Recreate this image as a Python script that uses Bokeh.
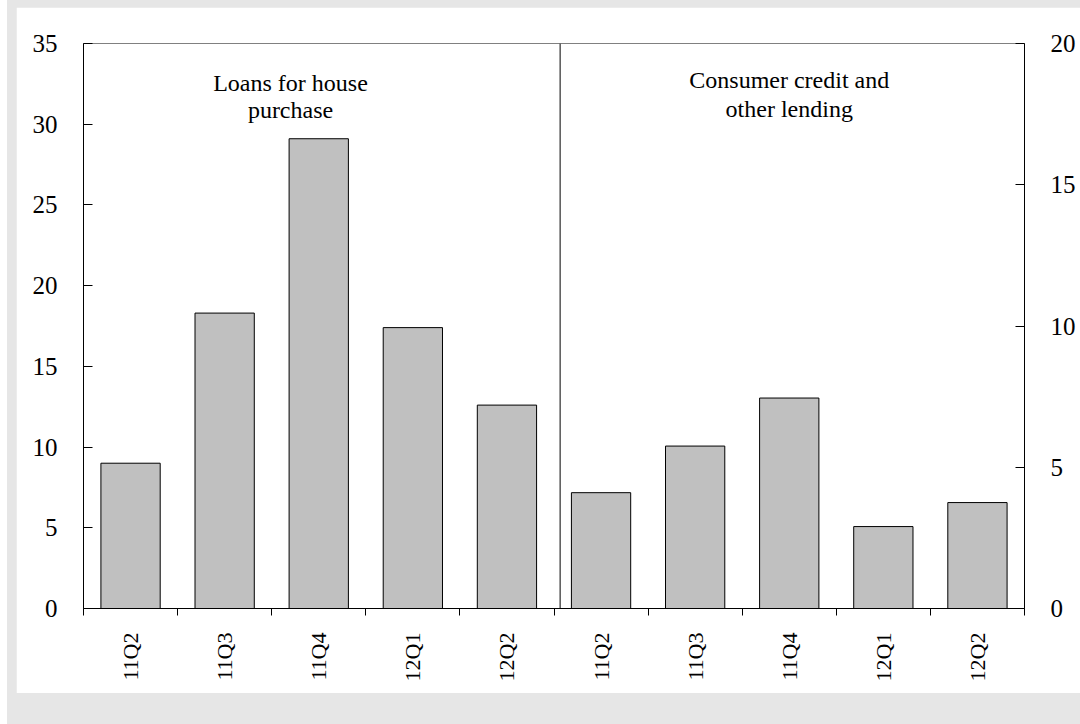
import math
from bokeh.plotting import figure
from bokeh.models import (Range1d, LinearAxis, FixedTicker, Span, Label, ColumnDataSource)
from bokeh.layouts import column
from bokeh.embed import file_html
from bokeh.resources import INLINE

# ---- data ----
quarters = ["11Q2", "11Q3", "11Q4", "12Q1", "12Q2"]
house_purchase = [9.0, 18.3, 29.1, 17.4, 12.6]        # left axis
consumer_other = [4.1, 5.75, 7.45, 2.9, 3.75]         # right axis
left_ticks = [0, 5, 10, 15, 20, 25, 30, 35]
right_ticks = [0, 5, 10, 15, 20]
panel_titles = [["Loans for house", "purchase"], ["Consumer credit and", "other lending"]]

FONT = "Liberation Serif"
n = len(quarters)
all_labels = quarters + quarters
centers = [i + 0.5 for i in range(2 * n)]

p = figure(width=1064, height=686, output_backend="svg", toolbar_location=None,
           x_range=Range1d(0, 2 * n), y_range=Range1d(0, left_ticks[-1]),
           min_border_left=67, min_border_right=56, min_border_top=36, min_border_bottom=85,
           border_fill_color="white", background_fill_color="white")
p.extra_y_ranges = {"right": Range1d(0, right_ticks[-1])}
p.xgrid.visible = False
p.ygrid.visible = False
p.outline_line_color = "#808080"
p.outline_line_width = 1

src_l = ColumnDataSource(dict(x=centers[:n], top=house_purchase))
src_r = ColumnDataSource(dict(x=centers[n:], top=consumer_other))
p.vbar(x="x", top="top", width=0.63, source=src_l, fill_color="#c0c0c0", line_color="black", line_width=1)
p.vbar(x="x", top="top", width=0.63, source=src_r, fill_color="#c0c0c0", line_color="black", line_width=1,
       y_range_name="right")

# divider between panels
p.add_layout(Span(location=n + 0.065, dimension="height", line_color="black", line_width=1))

# x axis: labels at centers, tick marks at boundaries
xa = p.xaxis[0]
xa.ticker = FixedTicker(ticks=centers, minor_ticks=list(range(2 * n + 1)))
xa.major_label_overrides = {c: l for c, l in zip(centers, all_labels)}
xa.major_tick_out = 0
xa.major_tick_in = 0
xa.minor_tick_out = 7
xa.minor_tick_in = 0
xa.major_label_orientation = math.pi / 2
xa.major_label_standoff = 17
xa.major_label_text_font = FONT
xa.major_label_text_font_size = "22px"
xa.major_label_text_color = "black"
xa.axis_line_color = "black"
xa.major_tick_line_color = "black"
xa.minor_tick_line_color = "black"

# left axis
ya = p.yaxis[0]
ya.ticker = FixedTicker(ticks=left_ticks)
ya.major_tick_in = 9
ya.major_tick_out = 0
ya.minor_tick_line_color = None
ya.major_label_standoff = 26
ya.major_label_text_font = FONT
ya.major_label_text_font_size = "25px"
ya.major_label_text_color = "black"
ya.axis_line_color = "black"
ya.major_tick_line_color = "black"

# right axis
ra = LinearAxis(y_range_name="right", ticker=FixedTicker(ticks=right_ticks))
ra.major_tick_in = 9
ra.major_tick_out = 0
ra.minor_tick_line_color = None
ra.major_label_standoff = 26
ra.major_label_text_font = FONT
ra.major_label_text_font_size = "25px"
ra.major_label_text_color = "black"
ra.axis_line_color = "black"
ra.major_tick_line_color = "black"
p.add_layout(ra, "right")

# panel titles (positioned in left-axis units)
title_x = [2.2, 7.5]
line_y = [(32.58, 30.85), (32.71, 30.97)]
for tx, lines, ys in zip(title_x, panel_titles, line_y):
    for txt, yy in zip(lines, ys):
        p.add_layout(Label(x=tx, y=yy, text=txt, text_align="center",
                           text_baseline="alphabetic", text_font=FONT, text_font_size="24px",
                           text_color="black"))

layout = column(p, styles={"background-color": "#e6e6e6", "padding": "7px 0px 31px 9px",
                           "border-left": "7px solid white"})

open("out.html", "w").write(file_html(layout, INLINE))
